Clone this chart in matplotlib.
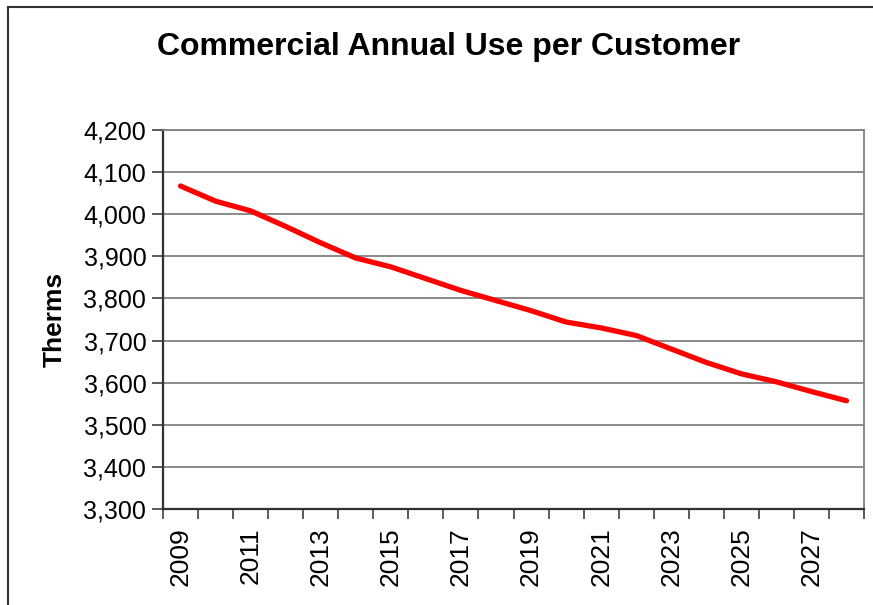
import matplotlib.pyplot as plt
from matplotlib.lines import Line2D
from matplotlib.ticker import FuncFormatter, MultipleLocator

plt.rcParams['font.family'] = ['Liberation Sans', 'DejaVu Sans']

years = list(range(2009, 2029))
therms = [4067, 4031, 4008, 3971, 3932, 3896, 3875, 3847, 3819, 3795,
          3771, 3744, 3730, 3712, 3680, 3648, 3621, 3602, 3579, 3557]
year_labels = [str(y) if (y - 2009) % 2 == 0 else '' for y in years]

W, H = 873, 605
fig = plt.figure(figsize=(W / 100, H / 100), dpi=100)
ax = fig.add_axes([163 / W, 1 - 509 / H, (864 - 163) / W, (509 - 130) / H])

x = list(range(len(years)))
ax.plot(x, therms, color='#ff0000', lw=3.8, solid_capstyle='round',
        solid_joinstyle='round', zorder=3)

ax.set_xlim(-0.5, len(years) - 0.5)
ax.set_ylim(3300, 4200)
ax.yaxis.set_major_locator(MultipleLocator(100))
ax.yaxis.set_major_formatter(FuncFormatter(lambda v, p: f'{int(v):,}'))
ax.grid(axis='y', color='#808080', lw=1.3, zorder=1)

# category labels sit between tick marks placed on the boundaries
ax.set_xticks(x)
ax.set_xticklabels(year_labels, rotation=90, fontsize=19)
ax.set_xticks([i - 0.5 for i in range(len(years) + 1)], minor=True)
ax.tick_params(axis='x', which='major', length=0, pad=13)
ax.tick_params(axis='x', which='minor', length=7, width=1.2, color='#404040',
               direction='out')
ax.tick_params(axis='y', labelsize=18, length=8, width=1.2, color='#404040',
               pad=4)

for side in ('top', 'right'):
    ax.spines[side].set_color('#808080')
    ax.spines[side].set_linewidth(1.3)
for side in ('left', 'bottom'):
    ax.spines[side].set_color('#303030')
    ax.spines[side].set_linewidth(1.6)

ax.set_ylabel('Therms', fontsize=19, fontweight='bold', labelpad=12)

fig.text(449 / W, 1 - 47 / H, 'Commercial Annual Use per Customer',
         fontsize=23, fontweight='bold', ha='center', va='center')

# chart area border (left and top edges visible)
fig.add_artist(Line2D([7.5 / W, 7.5 / W], [0, 1 - 6.5 / H], transform=fig.transFigure,
                      color='#333333', lw=1.5))
fig.add_artist(Line2D([7.5 / W, 1], [1 - 6.5 / H, 1 - 6.5 / H], transform=fig.transFigure,
                      color='#333333', lw=1.5))

fig.savefig('out.png', dpi=100)
